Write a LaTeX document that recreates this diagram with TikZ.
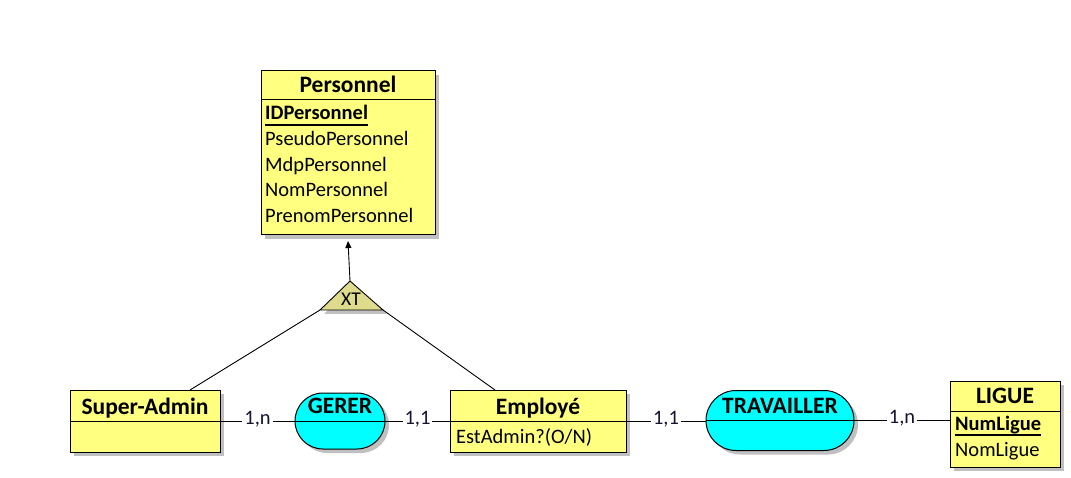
\documentclass[tikz,border=0pt]{standalone}
\usepackage{fontspec}
\setmainfont{Carlito}
\usetikzlibrary{shadows,arrows.meta,calc}
\definecolor{entyel}{RGB}{255,255,128}
\definecolor{relcyan}{RGB}{0,255,255}
\definecolor{trifill}{RGB}{222,220,140}
\definecolor{shd}{RGB}{192,192,192}
\definecolor{cardtxt}{RGB}{20,20,50}
\begin{document}
\begin{tikzpicture}[x=1pt,y=-1pt,
 shadowed/.style={drop shadow={shadow xshift=4pt,shadow yshift=-4pt,fill=shd,opacity=1}},
 ent/.style={draw,line width=1pt,fill=entyel,shadowed,inner sep=0pt,outer sep=0pt},
 rel/.style={draw,line width=1pt,fill=relcyan,shadowed,inner sep=0pt,outer sep=0pt},
 hdr/.style={font=\fontsize{23.5}{27}\selectfont\bfseries,inner sep=0pt,anchor=base},
 attr/.style={font=\fontsize{20.5}{24}\selectfont,inner sep=0pt,anchor=base west},
 card/.style={font=\fontsize{20.5}{24}\selectfont,text=cardtxt,fill=white,inner xsep=2pt,inner ysep=0pt,text height=0.644em,text depth=0pt},
 link/.style={line width=0.9pt},
 divline/.style={line width=1pt},
 ulline/.style={line width=1.3pt}]
\useasboundingbox (0,0) rectangle (1071,478);

% Personnel
\node[ent,minimum width=174pt,minimum height=164pt] (pers) at (348,153) {};
\draw[divline] ([yshift=-29pt]pers.north west) -- ([yshift=-29pt]pers.north east);
\node[hdr] (persh) at ([yshift=-22pt]pers.north) {Personnel};
\node[attr] (p1) at ([xshift=4pt,yshift=-49pt]pers.north west) {\textbf{IDPersonnel}};
\draw[ulline] ([yshift=-5pt]p1.base west) -- ([yshift=-5pt]p1.base east);
\node[attr] (p2) at ([xshift=4pt,yshift=-75pt]pers.north west) {PseudoPersonnel};
\node[attr] (p3) at ([xshift=4pt,yshift=-100.5pt]pers.north west) {MdpPersonnel};
\node[attr] (p4) at ([xshift=4pt,yshift=-126pt]pers.north west) {NomPersonnel};
\node[attr] (p5) at ([xshift=4pt,yshift=-151.5pt]pers.north west) {PrenomPersonnel};

% bottom row
\node[ent,minimum width=150pt,minimum height=62pt] (sa) at (145,421) {};
\draw[divline] ([yshift=-31pt]sa.north west) -- ([yshift=-31pt]sa.north east);
\node[hdr] (sah) at ([yshift=-24pt]sa.north) {Super-Admin};

\node[rel,minimum width=90pt,minimum height=56pt,rounded corners=28pt] (ger) at (340,421) {};
\draw[divline] (ger.west) -- (ger.east);
\node[hdr] (gerh) at ([yshift=-20pt]ger.north) {GERER};

\node[ent,minimum width=176pt,minimum height=62pt] (emp) at (538,421) {};
\draw[divline] ([yshift=-31pt]emp.north west) -- ([yshift=-31pt]emp.north east);
\node[hdr] (emph) at ([yshift=-24pt]emp.north) {Employé};
\node[attr] (e1) at ([xshift=6pt,yshift=-53pt]emp.north west) {EstAdmin?(O/N)};

\node[rel,minimum width=148pt,minimum height=60pt,rounded corners=30pt] (trav) at (780,420.5) {};
\draw[divline] (trav.west) -- (trav.east);
\node[hdr] (travh) at ([yshift=-23pt]trav.north) {TRAVAILLER};

\node[ent,minimum width=110pt,minimum height=86pt] (lig) at (1005,424) {};
\draw[divline] ([yshift=-30pt]lig.north west) -- ([yshift=-30pt]lig.north east);
\node[hdr] (ligh) at ([yshift=-22pt]lig.north) {LIGUE};
\node[attr] (l1) at ([xshift=5pt,yshift=-49pt]lig.north west) {\textbf{NumLigue}};
\draw[ulline] ([yshift=-5pt]l1.base west) -- ([yshift=-5pt]l1.base east);
\node[attr] (l2) at ([xshift=5pt,yshift=-75.5pt]lig.north west) {NomLigue};

% inheritance triangle
\coordinate (ta) at (350,281);
\coordinate (tl) at (320,310);
\coordinate (tr) at (383,310);
\fill[shd] ([shift={(4pt,-4pt)}]ta) -- ([shift={(4pt,-4pt)}]tl) -- ([shift={(4pt,-4pt)}]tr) -- cycle;
\draw[link,fill=trifill] (ta) -- (tl) -- (tr) -- cycle;
\node[font=\fontsize{19.5}{22}\selectfont,inner sep=0pt,anchor=base] (xt) at (351,306) {XT};
\draw[link,-{Triangle[length=7pt,width=6pt]}] (ta) -- ([yshift=-6pt]pers.south);
\draw[link] (tl) -- ([xshift=45pt]sa.north);
\draw[link] (tr) -- ([xshift=-43pt]emp.north);

% connectors
\draw[link] (sa.east) -- node[card] (c1) {1,n} (ger.west);
\draw[link] (ger.east) -- node[card] (c2) {1,1} (emp.west);
\draw[link] (emp.east) -- node[card] (c3) {1,1} (emp.east -| trav.west);
\draw[link] (trav.east) -- node[card] (c4) {1,n} (trav.east -| lig.west);
\end{tikzpicture}
\end{document}
